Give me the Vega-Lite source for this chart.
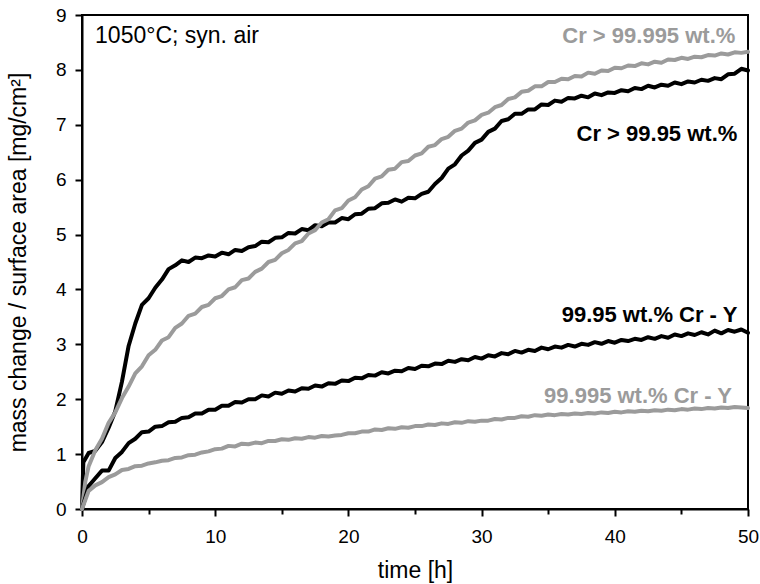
{
"$schema": "https://vega.github.io/schema/vega-lite/v6.json",
"width": 666, "height": 494,
"autosize": "none",
"padding": {"left": 82, "top": 15, "right": 12, "bottom": 75},
"background": "white",
"config": {"view": {"stroke": "black", "strokeWidth": 2}, "font": "Liberation Sans"},
"datasets": {
"curves": [
{"s":"A","t":0,"m":0},{"s":"A","t":0.1,"m":0.85},{"s":"A","t":0.5,"m":1.02},{"s":"A","t":1,"m":1.06},{"s":"A","t":1.5,"m":1.22},{"s":"A","t":2,"m":1.48},{"s":"A","t":2.5,"m":1.78},{"s":"A","t":3,"m":2.32},{"s":"A","t":3.5,"m":2.97},{"s":"A","t":4,"m":3.38},{"s":"A","t":4.5,"m":3.72},{"s":"A","t":5,"m":3.84},{"s":"A","t":5.5,"m":4.03},{"s":"A","t":6,"m":4.18},{"s":"A","t":6.5,"m":4.37},{"s":"A","t":7,"m":4.44},{"s":"A","t":7.5,"m":4.53},{"s":"A","t":8,"m":4.5},{"s":"A","t":8.5,"m":4.58},{"s":"A","t":9,"m":4.57},{"s":"A","t":9.5,"m":4.62},{"s":"A","t":10,"m":4.6},{"s":"A","t":10.5,"m":4.67},{"s":"A","t":11,"m":4.64},{"s":"A","t":11.5,"m":4.72},{"s":"A","t":12,"m":4.7},{"s":"A","t":12.5,"m":4.77},{"s":"A","t":13,"m":4.79},{"s":"A","t":13.5,"m":4.87},{"s":"A","t":14,"m":4.86},{"s":"A","t":14.5,"m":4.94},{"s":"A","t":15,"m":4.95},{"s":"A","t":15.5,"m":5.03},{"s":"A","t":16,"m":5.02},{"s":"A","t":16.5,"m":5.1},{"s":"A","t":17,"m":5.08},{"s":"A","t":17.5,"m":5.17},{"s":"A","t":18,"m":5.15},{"s":"A","t":18.5,"m":5.22},{"s":"A","t":19,"m":5.22},{"s":"A","t":19.5,"m":5.3},{"s":"A","t":20,"m":5.28},{"s":"A","t":20.5,"m":5.37},{"s":"A","t":21,"m":5.38},{"s":"A","t":21.5,"m":5.47},{"s":"A","t":22,"m":5.48},{"s":"A","t":22.5,"m":5.57},{"s":"A","t":23,"m":5.58},{"s":"A","t":23.5,"m":5.64},{"s":"A","t":24,"m":5.6},{"s":"A","t":24.5,"m":5.67},{"s":"A","t":25,"m":5.66},{"s":"A","t":25.5,"m":5.74},{"s":"A","t":26,"m":5.78},{"s":"A","t":26.5,"m":5.92},{"s":"A","t":27,"m":6.03},{"s":"A","t":27.5,"m":6.2},{"s":"A","t":28,"m":6.28},{"s":"A","t":28.5,"m":6.44},{"s":"A","t":29,"m":6.53},{"s":"A","t":29.5,"m":6.67},{"s":"A","t":30,"m":6.73},{"s":"A","t":30.5,"m":6.87},{"s":"A","t":31,"m":6.93},{"s":"A","t":31.5,"m":7.07},{"s":"A","t":32,"m":7.1},{"s":"A","t":32.5,"m":7.2},{"s":"A","t":33,"m":7.2},{"s":"A","t":33.5,"m":7.28},{"s":"A","t":34,"m":7.28},{"s":"A","t":34.5,"m":7.37},{"s":"A","t":35,"m":7.36},{"s":"A","t":35.5,"m":7.44},{"s":"A","t":36,"m":7.42},{"s":"A","t":36.5,"m":7.49},{"s":"A","t":37,"m":7.48},{"s":"A","t":37.5,"m":7.53},{"s":"A","t":38,"m":7.5},{"s":"A","t":38.5,"m":7.57},{"s":"A","t":39,"m":7.54},{"s":"A","t":39.5,"m":7.59},{"s":"A","t":40,"m":7.58},{"s":"A","t":40.5,"m":7.63},{"s":"A","t":41,"m":7.61},{"s":"A","t":41.5,"m":7.67},{"s":"A","t":42,"m":7.65},{"s":"A","t":42.5,"m":7.71},{"s":"A","t":43,"m":7.68},{"s":"A","t":43.5,"m":7.73},{"s":"A","t":44,"m":7.71},{"s":"A","t":44.5,"m":7.77},{"s":"A","t":45,"m":7.74},{"s":"A","t":45.5,"m":7.79},{"s":"A","t":46,"m":7.77},{"s":"A","t":46.5,"m":7.82},{"s":"A","t":47,"m":7.8},{"s":"A","t":47.5,"m":7.85},{"s":"A","t":48,"m":7.83},{"s":"A","t":48.5,"m":7.92},{"s":"A","t":49,"m":7.93},{"s":"A","t":49.5,"m":8.02},{"s":"A","t":50,"m":7.99},
{"s":"B","t":0,"m":0},{"s":"B","t":0.25,"m":0.5},{"s":"B","t":0.5,"m":0.78},{"s":"B","t":1,"m":1.07},{"s":"B","t":1.5,"m":1.28},{"s":"B","t":2,"m":1.57},{"s":"B","t":2.5,"m":1.76},{"s":"B","t":3,"m":2.02},{"s":"B","t":3.5,"m":2.23},{"s":"B","t":4,"m":2.47},{"s":"B","t":4.5,"m":2.6},{"s":"B","t":5,"m":2.8},{"s":"B","t":5.5,"m":2.9},{"s":"B","t":6,"m":3.07},{"s":"B","t":6.5,"m":3.13},{"s":"B","t":7,"m":3.3},{"s":"B","t":7.5,"m":3.38},{"s":"B","t":8,"m":3.52},{"s":"B","t":8.5,"m":3.56},{"s":"B","t":9,"m":3.68},{"s":"B","t":9.5,"m":3.72},{"s":"B","t":10,"m":3.84},{"s":"B","t":10.5,"m":3.88},{"s":"B","t":11,"m":4.0},{"s":"B","t":11.5,"m":4.04},{"s":"B","t":12,"m":4.17},{"s":"B","t":12.5,"m":4.2},{"s":"B","t":13,"m":4.32},{"s":"B","t":13.5,"m":4.38},{"s":"B","t":14,"m":4.5},{"s":"B","t":14.5,"m":4.54},{"s":"B","t":15,"m":4.66},{"s":"B","t":15.5,"m":4.72},{"s":"B","t":16,"m":4.84},{"s":"B","t":16.5,"m":4.88},{"s":"B","t":17,"m":5.02},{"s":"B","t":17.5,"m":5.08},{"s":"B","t":18,"m":5.22},{"s":"B","t":18.5,"m":5.28},{"s":"B","t":19,"m":5.44},{"s":"B","t":19.5,"m":5.48},{"s":"B","t":20,"m":5.62},{"s":"B","t":20.5,"m":5.68},{"s":"B","t":21,"m":5.82},{"s":"B","t":21.5,"m":5.88},{"s":"B","t":22,"m":6.02},{"s":"B","t":22.5,"m":6.06},{"s":"B","t":23,"m":6.18},{"s":"B","t":23.5,"m":6.2},{"s":"B","t":24,"m":6.32},{"s":"B","t":24.5,"m":6.34},{"s":"B","t":25,"m":6.44},{"s":"B","t":25.5,"m":6.48},{"s":"B","t":26,"m":6.6},{"s":"B","t":26.5,"m":6.63},{"s":"B","t":27,"m":6.74},{"s":"B","t":27.5,"m":6.78},{"s":"B","t":28,"m":6.89},{"s":"B","t":28.5,"m":6.93},{"s":"B","t":29,"m":7.04},{"s":"B","t":29.5,"m":7.08},{"s":"B","t":30,"m":7.18},{"s":"B","t":30.5,"m":7.22},{"s":"B","t":31,"m":7.32},{"s":"B","t":31.5,"m":7.36},{"s":"B","t":32,"m":7.47},{"s":"B","t":32.5,"m":7.5},{"s":"B","t":33,"m":7.6},{"s":"B","t":33.5,"m":7.62},{"s":"B","t":34,"m":7.7},{"s":"B","t":34.5,"m":7.7},{"s":"B","t":35,"m":7.78},{"s":"B","t":35.5,"m":7.78},{"s":"B","t":36,"m":7.84},{"s":"B","t":36.5,"m":7.83},{"s":"B","t":37,"m":7.89},{"s":"B","t":37.5,"m":7.88},{"s":"B","t":38,"m":7.95},{"s":"B","t":38.5,"m":7.93},{"s":"B","t":39,"m":7.99},{"s":"B","t":39.5,"m":7.98},{"s":"B","t":40,"m":8.04},{"s":"B","t":40.5,"m":8.03},{"s":"B","t":41,"m":8.08},{"s":"B","t":41.5,"m":8.07},{"s":"B","t":42,"m":8.12},{"s":"B","t":42.5,"m":8.1},{"s":"B","t":43,"m":8.15},{"s":"B","t":43.5,"m":8.13},{"s":"B","t":44,"m":8.19},{"s":"B","t":44.5,"m":8.18},{"s":"B","t":45,"m":8.22},{"s":"B","t":45.5,"m":8.2},{"s":"B","t":46,"m":8.24},{"s":"B","t":46.5,"m":8.23},{"s":"B","t":47,"m":8.27},{"s":"B","t":47.5,"m":8.26},{"s":"B","t":48,"m":8.3},{"s":"B","t":48.5,"m":8.28},{"s":"B","t":49,"m":8.32},{"s":"B","t":49.5,"m":8.31},{"s":"B","t":50,"m":8.33},
{"s":"C","t":0,"m":0},{"s":"C","t":0.5,"m":0.42},{"s":"C","t":1,"m":0.56},{"s":"C","t":1.5,"m":0.7},{"s":"C","t":2,"m":0.7},{"s":"C","t":2.5,"m":0.93},{"s":"C","t":3,"m":1.04},{"s":"C","t":3.5,"m":1.2},{"s":"C","t":4,"m":1.28},{"s":"C","t":4.5,"m":1.4},{"s":"C","t":5,"m":1.41},{"s":"C","t":5.5,"m":1.5},{"s":"C","t":6,"m":1.51},{"s":"C","t":6.5,"m":1.58},{"s":"C","t":7,"m":1.59},{"s":"C","t":7.5,"m":1.66},{"s":"C","t":8,"m":1.67},{"s":"C","t":8.5,"m":1.74},{"s":"C","t":9,"m":1.74},{"s":"C","t":9.5,"m":1.81},{"s":"C","t":10,"m":1.81},{"s":"C","t":10.5,"m":1.88},{"s":"C","t":11,"m":1.88},{"s":"C","t":11.5,"m":1.95},{"s":"C","t":12,"m":1.94},{"s":"C","t":12.5,"m":2.0},{"s":"C","t":13,"m":2.0},{"s":"C","t":13.5,"m":2.07},{"s":"C","t":14,"m":2.05},{"s":"C","t":14.5,"m":2.12},{"s":"C","t":15,"m":2.1},{"s":"C","t":15.5,"m":2.16},{"s":"C","t":16,"m":2.14},{"s":"C","t":16.5,"m":2.2},{"s":"C","t":17,"m":2.19},{"s":"C","t":17.5,"m":2.25},{"s":"C","t":18,"m":2.23},{"s":"C","t":18.5,"m":2.29},{"s":"C","t":19,"m":2.28},{"s":"C","t":19.5,"m":2.34},{"s":"C","t":20,"m":2.33},{"s":"C","t":20.5,"m":2.39},{"s":"C","t":21,"m":2.38},{"s":"C","t":21.5,"m":2.44},{"s":"C","t":22,"m":2.43},{"s":"C","t":22.5,"m":2.49},{"s":"C","t":23,"m":2.47},{"s":"C","t":23.5,"m":2.52},{"s":"C","t":24,"m":2.51},{"s":"C","t":24.5,"m":2.57},{"s":"C","t":25,"m":2.55},{"s":"C","t":25.5,"m":2.61},{"s":"C","t":26,"m":2.6},{"s":"C","t":26.5,"m":2.65},{"s":"C","t":27,"m":2.64},{"s":"C","t":27.5,"m":2.7},{"s":"C","t":28,"m":2.68},{"s":"C","t":28.5,"m":2.73},{"s":"C","t":29,"m":2.71},{"s":"C","t":29.5,"m":2.77},{"s":"C","t":30,"m":2.74},{"s":"C","t":30.5,"m":2.8},{"s":"C","t":31,"m":2.78},{"s":"C","t":31.5,"m":2.84},{"s":"C","t":32,"m":2.82},{"s":"C","t":32.5,"m":2.88},{"s":"C","t":33,"m":2.85},{"s":"C","t":33.5,"m":2.9},{"s":"C","t":34,"m":2.88},{"s":"C","t":34.5,"m":2.94},{"s":"C","t":35,"m":2.91},{"s":"C","t":35.5,"m":2.96},{"s":"C","t":36,"m":2.94},{"s":"C","t":36.5,"m":2.99},{"s":"C","t":37,"m":2.96},{"s":"C","t":37.5,"m":3.01},{"s":"C","t":38,"m":2.99},{"s":"C","t":38.5,"m":3.04},{"s":"C","t":39,"m":3.01},{"s":"C","t":39.5,"m":3.06},{"s":"C","t":40,"m":3.03},{"s":"C","t":40.5,"m":3.08},{"s":"C","t":41,"m":3.06},{"s":"C","t":41.5,"m":3.1},{"s":"C","t":42,"m":3.08},{"s":"C","t":42.5,"m":3.13},{"s":"C","t":43,"m":3.1},{"s":"C","t":43.5,"m":3.15},{"s":"C","t":44,"m":3.12},{"s":"C","t":44.5,"m":3.18},{"s":"C","t":45,"m":3.15},{"s":"C","t":45.5,"m":3.2},{"s":"C","t":46,"m":3.17},{"s":"C","t":46.5,"m":3.22},{"s":"C","t":47,"m":3.18},{"s":"C","t":47.5,"m":3.25},{"s":"C","t":48,"m":3.2},{"s":"C","t":48.5,"m":3.26},{"s":"C","t":49,"m":3.23},{"s":"C","t":49.5,"m":3.27},{"s":"C","t":50,"m":3.21},
{"s":"D","t":0,"m":0},{"s":"D","t":0.5,"m":0.33},{"s":"D","t":1,"m":0.43},{"s":"D","t":1.5,"m":0.49},{"s":"D","t":2,"m":0.58},{"s":"D","t":2.5,"m":0.63},{"s":"D","t":3,"m":0.71},{"s":"D","t":3.5,"m":0.73},{"s":"D","t":4,"m":0.78},{"s":"D","t":4.5,"m":0.79},{"s":"D","t":5,"m":0.83},{"s":"D","t":5.5,"m":0.85},{"s":"D","t":6,"m":0.88},{"s":"D","t":6.5,"m":0.89},{"s":"D","t":7,"m":0.93},{"s":"D","t":7.5,"m":0.94},{"s":"D","t":8,"m":0.98},{"s":"D","t":8.5,"m":0.99},{"s":"D","t":9,"m":1.03},{"s":"D","t":9.5,"m":1.05},{"s":"D","t":10,"m":1.09},{"s":"D","t":10.5,"m":1.1},{"s":"D","t":11,"m":1.15},{"s":"D","t":11.5,"m":1.14},{"s":"D","t":12,"m":1.19},{"s":"D","t":12.5,"m":1.18},{"s":"D","t":13,"m":1.21},{"s":"D","t":13.5,"m":1.2},{"s":"D","t":14,"m":1.24},{"s":"D","t":14.5,"m":1.24},{"s":"D","t":15,"m":1.27},{"s":"D","t":15.5,"m":1.26},{"s":"D","t":16,"m":1.29},{"s":"D","t":16.5,"m":1.28},{"s":"D","t":17,"m":1.31},{"s":"D","t":17.5,"m":1.3},{"s":"D","t":18,"m":1.33},{"s":"D","t":18.5,"m":1.32},{"s":"D","t":19,"m":1.34},{"s":"D","t":19.5,"m":1.35},{"s":"D","t":20,"m":1.38},{"s":"D","t":20.5,"m":1.38},{"s":"D","t":21,"m":1.41},{"s":"D","t":21.5,"m":1.41},{"s":"D","t":22,"m":1.45},{"s":"D","t":22.5,"m":1.44},{"s":"D","t":23,"m":1.47},{"s":"D","t":23.5,"m":1.46},{"s":"D","t":24,"m":1.49},{"s":"D","t":24.5,"m":1.48},{"s":"D","t":25,"m":1.51},{"s":"D","t":25.5,"m":1.51},{"s":"D","t":26,"m":1.54},{"s":"D","t":26.5,"m":1.53},{"s":"D","t":27,"m":1.56},{"s":"D","t":27.5,"m":1.55},{"s":"D","t":28,"m":1.58},{"s":"D","t":28.5,"m":1.57},{"s":"D","t":29,"m":1.6},{"s":"D","t":29.5,"m":1.59},{"s":"D","t":30,"m":1.61},{"s":"D","t":30.5,"m":1.61},{"s":"D","t":31,"m":1.64},{"s":"D","t":31.5,"m":1.63},{"s":"D","t":32,"m":1.66},{"s":"D","t":32.5,"m":1.66},{"s":"D","t":33,"m":1.69},{"s":"D","t":33.5,"m":1.68},{"s":"D","t":34,"m":1.71},{"s":"D","t":34.5,"m":1.7},{"s":"D","t":35,"m":1.72},{"s":"D","t":35.5,"m":1.71},{"s":"D","t":36,"m":1.73},{"s":"D","t":36.5,"m":1.72},{"s":"D","t":37,"m":1.74},{"s":"D","t":37.5,"m":1.73},{"s":"D","t":38,"m":1.75},{"s":"D","t":38.5,"m":1.74},{"s":"D","t":39,"m":1.76},{"s":"D","t":39.5,"m":1.75},{"s":"D","t":40,"m":1.77},{"s":"D","t":40.5,"m":1.76},{"s":"D","t":41,"m":1.78},{"s":"D","t":41.5,"m":1.77},{"s":"D","t":42,"m":1.79},{"s":"D","t":42.5,"m":1.78},{"s":"D","t":43,"m":1.8},{"s":"D","t":43.5,"m":1.79},{"s":"D","t":44,"m":1.81},{"s":"D","t":44.5,"m":1.8},{"s":"D","t":45,"m":1.82},{"s":"D","t":45.5,"m":1.81},{"s":"D","t":46,"m":1.83},{"s":"D","t":46.5,"m":1.82},{"s":"D","t":47,"m":1.84},{"s":"D","t":47.5,"m":1.83},{"s":"D","t":48,"m":1.85},{"s":"D","t":48.5,"m":1.84},{"s":"D","t":49,"m":1.86},{"s":"D","t":49.5,"m":1.85},{"s":"D","t":50,"m":1.84}
],
"labels": [
{"s":"B","t":49.05,"m":8.49,"label":"Cr > 99.995 wt.%"},
{"s":"A","t":49.2,"m":6.7,"label":"Cr > 99.95 wt.%"},
{"s":"C","t":49.2,"m":3.41,"label":"99.95 wt.% Cr - Y"},
{"s":"D","t":48.8,"m":1.93,"label":"99.995 wt.% Cr - Y"}
],
"notes": [
{"t":0.98,"m":8.49,"label":"1050°C; syn. air"}
]
},
"layer": [
{
"data": {"name": "curves"},
"mark": {"type": "line", "strokeJoin": "round", "strokeCap": "round"},
"encoding": {
"x": {"field": "t", "type": "quantitative", "title": "time [h]",
"scale": {"domain": [0, 50], "nice": false},
"axis": {"values": [0,5,10,15,20,25,30,35,40,45,50], "labelExpr": "datum.value % 10 === 0 ? format(datum.value, 'd') : ''",
"grid": false, "labelFlush": false, "labelOverlap": false, "domainColor": "black", "domainWidth": 2,
"tickColor": "black", "tickWidth": 2, "tickSize": {"condition": {"test": "datum.value % 10 === 0", "value": 7}, "value": 5},
"labelFont": "Liberation Sans", "labelFontSize": 19, "labelColor": "black", "labelPadding": 11,
"titleFont": "Liberation Sans", "titleFontSize": 23, "titleFontWeight": "normal", "titleColor": "black",
"titleBaseline": "alphabetic", "titleY": 68}},
"y": {"field": "m", "type": "quantitative", "title": "mass change / surface area [mg/cm²]",
"scale": {"domain": [0, 9], "nice": false},
"axis": {"values": [0,0.5,1,1.5,2,2.5,3,3.5,4,4.5,5,5.5,6,6.5,7,7.5,8,8.5,9], "labelExpr": "datum.value % 1 === 0 ? format(datum.value, 'd') : ''",
"grid": false, "labelOverlap": false, "labelFlush": false, "domainColor": "black", "domainWidth": 2,
"tickColor": "black", "tickWidth": 2, "tickSize": {"condition": {"test": "datum.value % 1 === 0", "value": 7}, "value": 5},
"labelFont": "Liberation Sans", "labelFontSize": 19, "labelColor": "black", "labelPadding": 9,
"titleFont": "Liberation Sans", "titleFontSize": 23, "titleFontWeight": "normal", "titleColor": "black",
"titleBaseline": "alphabetic", "titleX": -57, "titleY": 247, "titleAngle": -90}},
"color": {"field": "s", "type": "nominal", "scale": {"domain": ["A","B","C","D"], "range": ["#000000","#9b9b9b","#000000","#9b9b9b"]}, "legend": null},
"strokeWidth": {"field": "s", "type": "nominal", "scale": {"domain": ["A","B","C","D"], "range": [4, 4, 2.8, 2.8]}, "legend": null},
"order": {"field": "t", "type": "quantitative"}
}
},
{
"data": {"name": "labels"},
"mark": {"type": "text", "align": "right", "baseline": "alphabetic", "font": "Liberation Sans", "fontWeight": "bold", "fontSize": 22},
"encoding": {
"x": {"field": "t", "type": "quantitative"},
"y": {"field": "m", "type": "quantitative"},
"text": {"field": "label"},
"color": {"field": "s", "type": "nominal", "legend": null}
}
},
{
"data": {"name": "notes"},
"mark": {"type": "text", "align": "left", "baseline": "alphabetic", "font": "Liberation Sans", "fontSize": 23, "color": "black"},
"encoding": {
"x": {"field": "t", "type": "quantitative"},
"y": {"field": "m", "type": "quantitative"},
"text": {"field": "label"}
}
}
]
}
